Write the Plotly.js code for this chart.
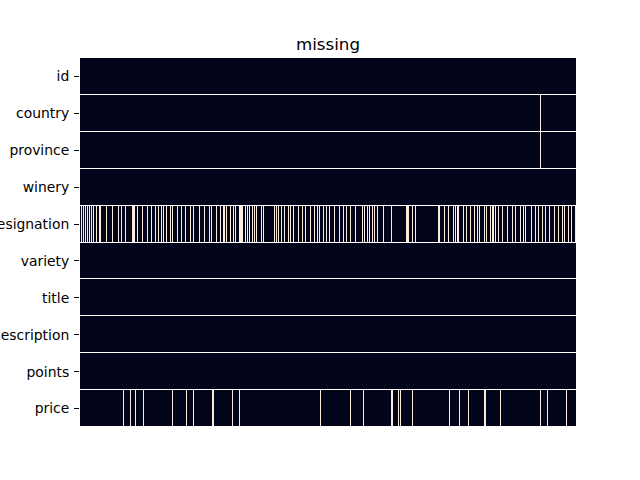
<!DOCTYPE html>
<html>
<head>
<meta charset="utf-8">
<script src="https://cdn.plot.ly/plotly-3.0.1.min.js"></script>
<style>html,body{margin:0;padding:0;background:#fff;}#chart{width:640px;height:480px;}</style>
</head>
<body>
<div id="chart"></div>
<script>
// Column labels (rows of the heatmap, top to bottom)
const columns = ["id", "country", "province", "winery", "designation", "variety", "title", "description", "points", "price"];
// Number of records shown along x (one heatmap cell per record bin)
const nRecords = 496;
// Record bins where each column is missing
const missingId = [];
const missingCountry = [460];
const missingProvince = [460];
const missingWinery = [];
const missingDesignation = [
  1, 3, 5, 7, 9, 11, 13, 16, 19, 20, 26, 32, 38, 41, 45, 52, 53, 54, 57, 62, 67, 71, 75, 78, 81, 83, 86, 90, 92, 97,
  101, 105, 110, 113, 119, 124, 129, 131, 136, 140, 143, 144, 146, 150, 153, 155, 159, 160, 161, 165,
  162, 167, 169, 172, 174, 176, 181, 183, 194, 196, 198, 201, 204, 208, 210, 213, 218, 222, 225, 230, 234, 237, 239,
  243, 246, 249, 254, 259, 263, 266, 270, 275, 282, 284, 287, 289, 292, 294, 297, 303, 311, 327,
  326, 328, 332, 335, 358, 359, 364, 368, 373, 375, 377, 378, 383, 386, 390, 394, 397, 399, 404, 406,
  410, 412, 413, 415, 418, 422, 427, 432, 435, 440, 443, 445, 451, 455, 458, 462, 465, 469, 474, 478, 482, 484, 488, 491, 495
];
const missingVariety = [];
const missingTitle = [];
const missingDescription = [];
const missingPoints = [];
const missingPrice = [43, 50, 55, 63, 92, 106, 113, 132, 133, 152, 159, 240, 270, 283, 311, 312, 318, 320, 332, 369, 379, 388, 404, 405, 420, 460, 467, 486];

const missingLists = [missingId, missingCountry, missingProvince, missingWinery, missingDesignation,
  missingVariety, missingTitle, missingDescription, missingPoints, missingPrice];

const xs = Array.from({length: nRecords}, (_, i) => i);
const z = missingLists.map(list => {
  const row = new Array(nRecords).fill(0);
  list.forEach(i => { if (i >= 0 && i < nRecords) row[i] = 1; });
  return row;
});

const trace = {
  type: 'heatmap',
  x: xs,
  y: columns,
  z: z,
  zmin: 0,
  zmax: 1,
  colorscale: [[0, '#03051a'], [0.5, '#03051a'], [0.5, '#faebdd'], [1, '#faebdd']],
  showscale: false,
  xgap: 0,
  ygap: 1,
  hoverinfo: 'skip'
};

const layout = {
  width: 640,
  height: 480,
  margin: {l: 80, r: 64, t: 58, b: 53},
  paper_bgcolor: '#ffffff',
  plot_bgcolor: '#ffffff',
  font: {family: 'DejaVu Sans', size: 13.9, color: '#000000'},
  title: {text: 'missing', x: 0.5125, xanchor: 'center', y: 0.908, yanchor: 'middle', font: {size: 16.7, family: 'DejaVu Sans', color: '#000'}},
  xaxis: {showticklabels: false, ticks: '', showgrid: false, zeroline: false, showline: false, range: [-0.5, nRecords - 0.5]},
  yaxis: {autorange: 'reversed', type: 'category', ticks: 'outside', ticklen: 5, tickwidth: 1, tickcolor: '#000',
          showgrid: false, zeroline: false, showline: false, ticklabelstandoff: 2, automargin: false}
};

Plotly.newPlot('chart', [trace], layout, {staticPlot: true, displayModeBar: false});
</script>
</body>
</html>
